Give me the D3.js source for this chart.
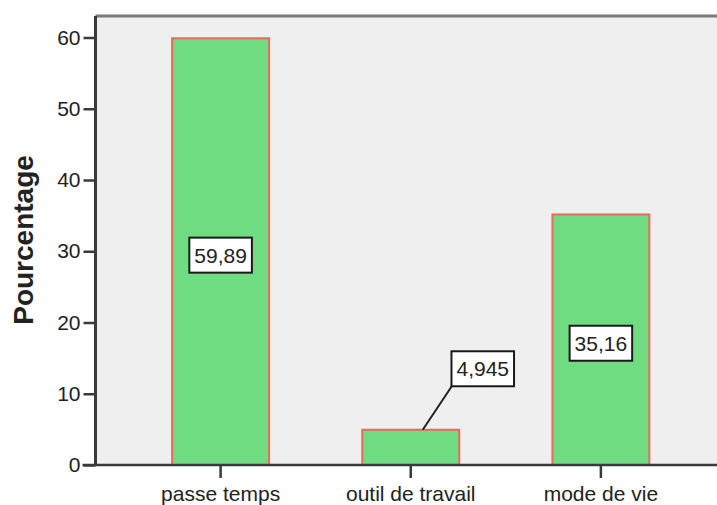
<!DOCTYPE html>
<html>
<head>
<meta charset="utf-8">
<script src="https://cdn.jsdelivr.net/npm/d3@7/dist/d3.min.js"></script>
<style>
  html, body { margin: 0; padding: 0; background: #fff; }
  svg { display: block; font-family: "Liberation Sans", Arial, sans-serif; }
</style>
</head>
<body>
<svg id="chart" width="717" height="505"></svg>
<script>
// Usage categories and their percentages
const categories = ["passe temps", "outil de travail", "mode de vie"];
const values = [59.89, 4.945, 35.16];
const valueLabels = ["59,89", "4,945", "35,16"];
const yTicks = [0, 10, 20, 30, 40, 50, 60];

const svg = d3.select("#chart");
const W = 717, H = 505;
const plot = { left: 95.5, top: 16, right: 726, bottom: 465 };

const x = d3.scaleBand()
  .domain(categories)
  .range([plot.left, plot.right])
  .paddingInner(0.49)
  .paddingOuter(0.403);

const y = d3.scaleLinear()
  .domain([0, 60])
  .range([plot.bottom, 37.5]);

// Plot background
svg.append("rect")
  .attr("x", plot.left).attr("y", plot.top)
  .attr("width", plot.right - plot.left).attr("height", plot.bottom - plot.top)
  .attr("fill", "#efefef");

// Top frame line
svg.append("line")
  .attr("x1", plot.left).attr("x2", W + 10)
  .attr("y1", plot.top).attr("y2", plot.top)
  .attr("stroke", "#7a7a7a").attr("stroke-width", 3);

// Bars
svg.append("g").selectAll("rect")
  .data(values)
  .join("rect")
  .attr("x", (d, i) => x(categories[i]))
  .attr("y", d => y(d))
  .attr("width", x.bandwidth())
  .attr("height", d => y(0) - y(d))
  .attr("fill", "#6fdc82")
  .attr("stroke", "#e46a64")
  .attr("stroke-width", 2);

// Y axis
const yAxis = svg.append("g")
  .attr("transform", `translate(${plot.left},0)`)
  .call(d3.axisLeft(y).tickValues(yTicks).tickSize(12).tickPadding(3).tickFormat(d3.format("d")));
yAxis.select(".domain").attr("d", `M0,${plot.top}V${plot.bottom}`)
  .attr("stroke", "#3a3a3a").attr("stroke-width", 3);
yAxis.selectAll(".tick line").attr("stroke", "#3a3a3a").attr("stroke-width", 2.5);
yAxis.selectAll(".tick text")
  .attr("font-size", 21).attr("fill", "#222")
  .attr("font-family", "Liberation Sans, Arial, sans-serif");

// X axis
const xAxis = svg.append("g")
  .attr("transform", `translate(0,${plot.bottom})`)
  .call(d3.axisBottom(x).tickSize(13).tickPadding(0));
xAxis.select(".domain").attr("d", `M${plot.left - 13},0H${W + 10}`)
  .attr("stroke", "#3a3a3a").attr("stroke-width", 2.5);
xAxis.selectAll(".tick line").attr("stroke", "#3a3a3a").attr("stroke-width", 2.5);
xAxis.selectAll(".tick text")
  .attr("font-size", 21).attr("fill", "#222")
  .attr("font-family", "Liberation Sans, Arial, sans-serif")
  .attr("dy", null)
  .attr("y", 36);

// Axis title
svg.append("text")
  .attr("transform", `translate(33,240) rotate(-90)`)
  .attr("text-anchor", "middle")
  .attr("font-size", 28).attr("font-weight", "bold").attr("fill", "#222")
  .text("Pourcentage");

// Value labels: centred inside tall bars, offset with a leader line for short ones
const labelG = svg.append("g");
values.forEach((v, i) => {
  const cx = x(categories[i]) + x.bandwidth() / 2;
  const inside = y(0) - y(v) > 60;
  const lx = inside ? cx : cx + 72;
  const ly = inside ? y(v / 2) + 3.5 : y(v) - 61;
  const g = labelG.append("g");
  if (!inside) {
    g.append("line")
      .attr("x1", lx - 31).attr("y1", ly + 17.5)
      .attr("x2", cx + 12).attr("y2", y(v))
      .attr("stroke", "#222").attr("stroke-width", 2);
  }
  const rect = g.append("rect").attr("fill", "#fff").attr("stroke", "#1a1a1a").attr("stroke-width", 2);
  const t = g.append("text")
    .attr("x", lx).attr("y", ly)
    .attr("text-anchor", "middle").attr("dominant-baseline", "central")
    .attr("font-size", 21).attr("fill", "#222")
    .text(valueLabels[i]);
  const w = t.node().getComputedTextLength() + 10;
  rect.attr("x", lx - w / 2).attr("y", ly - 17.5).attr("width", w).attr("height", 35);
});
</script>
</body>
</html>
